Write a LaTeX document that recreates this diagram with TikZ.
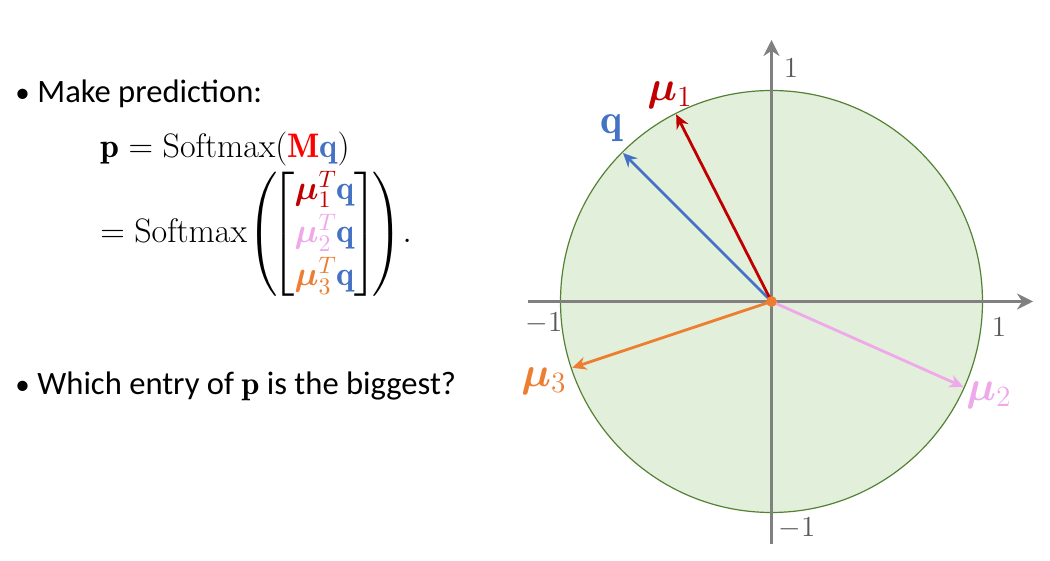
\RequirePackage{fix-cm}
\documentclass[tikz,border=0pt]{standalone}
\usepackage{amsmath}
\usepackage{bm}
\usepackage{xcolor}
\usepackage{fontspec}
\newfontfamily\bodyfont{Carlito}
\usetikzlibrary{arrows.meta,calc}
\definecolor{qBlue}{HTML}{4472C4}
\definecolor{muRed}{HTML}{C00000}
\definecolor{muPink}{HTML}{EFA9EB}
\definecolor{muOrange}{HTML}{ED7D31}
\definecolor{mRed}{HTML}{FF0000}
\definecolor{axisGray}{HTML}{808080}
\definecolor{tickGray}{HTML}{595959}
\definecolor{discFill}{HTML}{E2EFDA}
\definecolor{discEdge}{HTML}{548235}
\tikzset{
  axis arrow/.style={-{Stealth[length=8pt,width=8pt]},draw=axisGray,line width=1.5pt},
  vec arrow/.style={-{Stealth[length=7pt,width=6.5pt]},line width=1.4pt},
  bullet text/.style={anchor=base west,inner sep=0pt,
    font=\bodyfont\fontsize{16.3}{19}\selectfont},
  eq text/.style={inner sep=0pt,font=\fontsize{17}{20}\selectfont},
  vec label/.style={inner sep=0pt,font=\fontsize{21}{24}\selectfont},
  tick label/.style={inner sep=0pt,text=tickGray,font=\fontsize{14.5}{17}\selectfont}
}
\newcommand{\vmu}[1]{\bm{\mu}_{#1}}
\newcommand{\dotmark}{\makebox[11pt][l]{\fontsize{14.5}{14}\selectfont\textbullet}}
\renewcommand{\arraystretch}{1.08}

\begin{document}
\begin{tikzpicture}[x=0.5pt,y=0.5pt]
    \useasboundingbox (0,0) rectangle (1050,561);
    % left column: bullets and the softmax
    \node[bullet text] (pred) at (15,458) {\dotmark Make prediction:};
    \node[eq text,anchor=base west] (eqone) at (100,403)
      {$\mathbf{p} = \mathrm{Softmax}(\textcolor{mRed}{\mathbf{M}}\textcolor{qBlue}{\mathbf{q}})$};
    \node[eq text,anchor=west] (eqtwo) at (100,327)
      {$\delimiterfactor=820 \delimitershortfall=12pt
        = \mathrm{Softmax}\!\left(\!\begin{bmatrix}
        {\color{muRed}\vmu{1}^{T}}{\color{qBlue}\mathbf{q}}\\
        {\color{muPink}\vmu{2}^{T}}{\color{qBlue}\mathbf{q}}\\
        {\color{muOrange}\vmu{3}^{T}}{\color{qBlue}\mathbf{q}}
      \end{bmatrix}\!\right)\!.$};
    \node[bullet text] (ask) at (15,166)
      {\dotmark Which entry of $\mathbf{p}$ is the biggest?};
    % unit disc with axes
    \coordinate (O) at (771.5,259.5);
    \draw[draw=discEdge,fill=discFill,line width=0.6pt] (O) circle[radius=105.5pt];
    \coordinate (xl) at (528,259.5);
    \coordinate (xr) at (1033,259.5);
    \coordinate (yb) at (771.5,17);
    \coordinate (yt) at (771.5,521);
    \draw[axis arrow] (xl) -- (xr);
    \draw[axis arrow] (yb) -- (yt);
    % vectors on the circle
    \coordinate (qtip) at ($(O)+(135:210)$);
    \coordinate (mua) at ($(O)+(117:210)$);
    \coordinate (mub) at ($(O)+(-24:210)$);
    \coordinate (muc) at ($(O)+(198.4:210)$);
    \draw[vec arrow,qBlue] (O) -- (qtip);
    \draw[vec arrow,muRed] (O) -- (mua);
    \draw[vec arrow,muPink] (O) -- (mub);
    \draw[vec arrow,muOrange] (O) -- (muc);
    \node[circle,fill=muOrange,inner sep=0pt,minimum size=5.4pt] (dot) at (O) {};
    \node[vec label,text=qBlue] (qlab) at (612,433) {$\mathbf{q}$};
    \node[vec label,text=muRed] (mualab) at (670,466) {$\vmu{1}$};
    \node[vec label,text=muPink] (mublab) at (989,166) {$\vmu{2}$};
    \node[vec label,text=muOrange] (muclab) at (544,180) {$\vmu{3}$};
    % tick values
    \node[tick label] (ytop) at (791,493) {$1$};
    \node[tick label] (xleft) at (544,238) {$-1$};
    \node[tick label] (xright) at (999,234) {$1$};
    \node[tick label] (ybot) at (797,33) {$-1$};
\end{tikzpicture}
\end{document}
